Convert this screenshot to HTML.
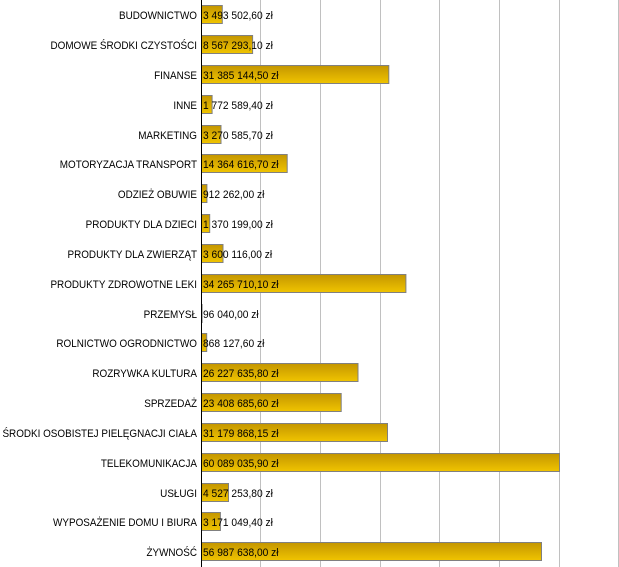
<!DOCTYPE html>
<html><head><meta charset="utf-8"><style>
html,body{margin:0;padding:0;background:#fff;}
svg{display:block;}
text{font-family:"Liberation Sans","DejaVu Sans",sans-serif;font-size:11px;fill:#000;}
</style></head><body>
<svg width="619" height="567" viewBox="0 0 619 567" xmlns="http://www.w3.org/2000/svg">
<defs><linearGradient id="g" x1="0" y1="0" x2="0" y2="1"><stop offset="0" stop-color="#c49600"/><stop offset="1" stop-color="#f0c400"/></linearGradient></defs>
<g stroke="#c0c0c0" stroke-width="1">
<line x1="260.5" y1="0" x2="260.5" y2="567"/><line x1="320.5" y1="0" x2="320.5" y2="567"/>
<line x1="380.5" y1="0" x2="380.5" y2="567"/><line x1="439.5" y1="0" x2="439.5" y2="567"/>
<line x1="499.5" y1="0" x2="499.5" y2="567"/><line x1="559.5" y1="0" x2="559.5" y2="567"/>
<line x1="618.5" y1="0" x2="618.5" y2="567"/>
</g>
<g fill="url(#g)" stroke="#808080" stroke-width="1">
<rect x="201.5" y="5.5" width="20.8" height="18"/>
<rect x="201.5" y="35.5" width="51.1" height="18"/>
<rect x="201.5" y="65.5" width="187.3" height="18"/>
<rect x="201.5" y="95.5" width="10.6" height="18"/>
<rect x="201.5" y="125.5" width="19.5" height="18"/>
<rect x="201.5" y="154.5" width="85.7" height="18"/>
<rect x="201.5" y="184.5" width="5.4" height="18"/>
<rect x="201.5" y="214.5" width="8.2" height="18"/>
<rect x="201.5" y="244.5" width="21.5" height="18"/>
<rect x="201.5" y="274.5" width="204.4" height="18"/>
<rect x="201.5" y="304.5" width="0.6" height="18"/>
<rect x="201.5" y="333.5" width="5.2" height="18"/>
<rect x="201.5" y="363.5" width="156.5" height="18"/>
<rect x="201.5" y="393.5" width="139.7" height="18"/>
<rect x="201.5" y="423.5" width="186.0" height="18"/>
<rect x="201.5" y="453.5" width="358.0" height="18"/>
<rect x="201.5" y="483.5" width="27.0" height="18"/>
<rect x="201.5" y="512.5" width="18.9" height="18"/>
<rect x="201.5" y="542.5" width="340.0" height="18"/>
</g>
<line x1="201.5" y1="0" x2="201.5" y2="567" stroke="#000" stroke-width="1"/>
<g text-anchor="end" transform="translate(197,0) scale(0.9,1)">
<text x="0" y="19">BUDOWNICTWO</text>
<text x="0" y="49">DOMOWE ŚRODKI CZYSTOŚCI</text>
<text x="0" y="79">FINANSE</text>
<text x="0" y="109">INNE</text>
<text x="0" y="139">MARKETING</text>
<text x="0" y="168">MOTORYZACJA TRANSPORT</text>
<text x="0" y="198">ODZIEŻ OBUWIE</text>
<text x="0" y="228">PRODUKTY DLA DZIECI</text>
<text x="0" y="258">PRODUKTY DLA ZWIERZĄT</text>
<text x="0" y="288">PRODUKTY ZDROWOTNE LEKI</text>
<text x="0" y="318">PRZEMYSŁ</text>
<text x="0" y="347">ROLNICTWO OGRODNICTWO</text>
<text x="0" y="377">ROZRYWKA KULTURA</text>
<text x="0" y="407">SPRZEDAŻ</text>
<text x="0" y="437">ŚRODKI OSOBISTEJ PIELĘGNACJI CIAŁA</text>
<text x="0" y="467">TELEKOMUNIKACJA</text>
<text x="0" y="497">USŁUGI</text>
<text x="0" y="526">WYPOSAŻENIE DOMU I BIURA</text>
<text x="0" y="556">ŻYWNOŚĆ</text>
</g>
<g transform="translate(203,0) scale(0.93,1)">
<text x="0" y="19">3 493 502,60 zł</text>
<text x="0" y="49">8 567 293,10 zł</text>
<text x="0" y="79">31 385 144,50 zł</text>
<text x="0" y="109">1 772 589,40 zł</text>
<text x="0" y="139">3 270 585,70 zł</text>
<text x="0" y="168">14 364 616,70 zł</text>
<text x="0" y="198">912 262,00 zł</text>
<text x="0" y="228">1 370 199,00 zł</text>
<text x="0" y="258">3 600 116,00 zł</text>
<text x="0" y="288">34 265 710,10 zł</text>
<text x="0" y="318">96 040,00 zł</text>
<text x="0" y="347">868 127,60 zł</text>
<text x="0" y="377">26 227 635,80 zł</text>
<text x="0" y="407">23 408 685,60 zł</text>
<text x="0" y="437">31 179 868,15 zł</text>
<text x="0" y="467">60 089 035,90 zł</text>
<text x="0" y="497">4 527 253,80 zł</text>
<text x="0" y="526">3 171 049,40 zł</text>
<text x="0" y="556">56 987 638,00 zł</text>
</g>
</svg>
</body></html>
